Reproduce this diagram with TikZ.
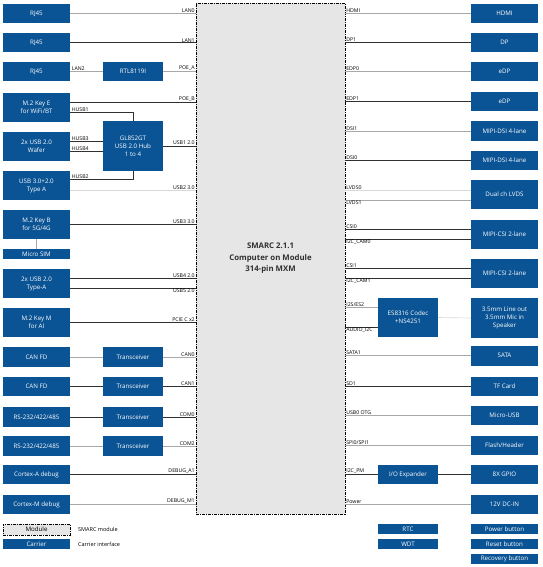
\documentclass[tikz,border=0pt]{standalone}
\usepackage{fontspec}
\setmainfont{Open Sans}
\definecolor{cblue}{HTML}{0A5394}
\definecolor{lgray}{HTML}{A8A8A8}
\definecolor{fgray}{HTML}{D8D8D8}
\definecolor{dgray}{HTML}{303030}
\definecolor{mfill}{HTML}{E6E6E6}
\tikzset{
  cbox/.style={fill=cblue, text=white, font=\fontsize{6.2}{8}\selectfont, align=center, inner sep=0pt},
  lw/.style={minimum width=67pt},
  mw/.style={minimum width=60pt},
  hh/.style={minimum height=#1},
  gl/.style={draw=lgray, line width=0.8pt},
  fl/.style={draw=fgray, line width=0.6pt},
  dl/.style={draw=dgray, line width=0.8pt},
  sigl/.style={font=\fontsize{5.2}{6}\selectfont, inner sep=0.6pt, anchor=south east},
  sigr/.style={font=\fontsize{5.2}{6}\selectfont, inner sep=0.6pt, anchor=south west},
  sigbl/.style={font=\fontsize{5.2}{6}\selectfont, inner sep=0.6pt, anchor=north east},
  sigbr/.style={font=\fontsize{5.2}{6}\selectfont, inner sep=0.6pt, anchor=north west},
  modbox/.style={draw=black, line width=0.7pt, dash pattern=on 3pt off 1pt on 1pt off 1pt, fill=mfill, inner sep=0pt},
}
\begin{document}
\begin{tikzpicture}[x=1pt,y=-1pt]
\useasboundingbox (0,0) rectangle (542,567);
% module
\node[modbox, minimum width=149pt, minimum height=511pt, align=center, text=dgray,
  font=\fontsize{7.8}{11.5}\selectfont\bfseries] (mod) at (270.5,258.5)
  {SMARC 2.1.1\\Computer on Module\\314-pin MXM};

% ---------------- left column
\node[cbox,lw,hh=19pt] (rj0) at (36.5,13.5) {RJ45};
\node[cbox,lw,hh=19pt] (rj1) at (36.5,42.5) {RJ45};
\node[cbox,lw,hh=19pt] (rj2) at (36.5,71.5) {RJ45};
\node[cbox,mw,hh=19pt] (rtl) at (133,71.5) {RTL8119I};
\node[cbox,lw,hh=29pt] (m2e) at (36.5,107.5) {M.2 Key E\\for WiFi/BT};
\node[cbox,mw,hh=50pt] (hub) at (133,146) {GL852GT\\USB 2.0 Hub\\1 to 4};
\node[cbox,lw,hh=29pt] (waf) at (36.5,146.5) {2x USB 2.0\\Wafer};
\node[cbox,lw,hh=29pt] (ta) at (36.5,185.5) {USB 3.0+2.0\\Type A};
\node[cbox,lw,hh=29pt] (m2b) at (36.5,224.5) {M.2 Key B\\for 5G/4G};
\node[cbox,lw,hh=10pt] (sim) at (36.5,254) {Micro SIM};
\node[cbox,lw,hh=29pt] (tb) at (36.5,283.5) {2x USB 2.0\\Type-A};
\node[cbox,lw,hh=29pt] (m2m) at (36.5,322.5) {M.2 Key M\\for AI};
\node[cbox,lw,hh=20pt] (can0) at (36.5,357) {CAN FD};
\node[cbox,mw,hh=20pt] (tr0) at (133,357) {Transceiver};
\node[cbox,lw,hh=19pt] (can1) at (36.5,386.5) {CAN FD};
\node[cbox,mw,hh=19pt] (tr1) at (133,386.5) {Transceiver};
\node[cbox,lw,hh=20pt] (rs0) at (36.5,417) {RS-232/422/485};
\node[cbox,mw,hh=20pt] (tr2) at (133,417) {Transceiver};
\node[cbox,lw,hh=20pt] (rs2) at (36.5,446) {RS-232/422/485};
\node[cbox,mw,hh=20pt] (tr3) at (133,446) {Transceiver};
\node[cbox,lw,hh=19pt] (cad) at (36.5,474.5) {Cortex-A debug};
\node[cbox,lw,hh=19pt] (cmd) at (36.5,504.5) {Cortex-M debug};

% legend
\node[modbox, minimum width=67pt, minimum height=11pt, font=\fontsize{6.2}{7}\selectfont] (lgm) at (36.5,529.5) {Module};
\node[cbox,lw,hh=10pt] (lgc) at (36.5,544) {Carrier};
\node[anchor=west, font=\fontsize{5.5}{6}\selectfont, inner sep=0pt] (lgmt) at (78,529.5) {SMARC module};
\node[anchor=west, font=\fontsize{5.5}{6}\selectfont, inner sep=0pt] (lgct) at (78,544) {Carrier interface};

% left connectors
\draw[gl] (rj0.east) -- (rj0.east -| mod.west);
\draw[dl] (rj1.east) -- (rj1.east -| mod.west);
\draw[gl] (rj2.east) -- (rtl.west);
\draw[gl] (rtl.east) -- (rtl.east -| mod.west);
\draw[dl] ([yshift=5.5pt]m2e.east) coordinate (t1) -- (t1 -| mod.west);
\draw[dl] ([yshift=-4.5pt]m2e.east) -| (hub.north);
\draw[dl] ([yshift=5.5pt]waf.east) coordinate (t2) -- (t2 -| hub.west);
\draw[dl] ([yshift=-4.5pt]waf.east) coordinate (t3) -- (t3 -| hub.west);
\draw[dl] ([yshift=6.5pt]ta.east) -| (hub.south);
\draw[fl] ([yshift=-4.5pt]ta.east) coordinate (t4) -- (t4 -| mod.west);
\draw[dl] (hub.east) -- (hub.east -| mod.west);
\draw[dl] (m2b.east) -- (m2b.east -| mod.west);
\draw[gl] (m2b.south) -- (sim.north);
\draw[dl] ([yshift=5.5pt]tb.east) coordinate (t5) -- (t5 -| mod.west);
\draw[dl] ([yshift=-4.5pt]tb.east) coordinate (t6) -- (t6 -| mod.west);
\draw[dl] (m2m.east) -- (m2m.east -| mod.west);
\draw[gl] (can0.east) -- (tr0.west);
\draw[gl] (tr0.east) -- (tr0.east -| mod.west);
\draw[dl] (can1.east) -- (tr1.west);
\draw[dl] (tr1.east) -- (tr1.east -| mod.west);
\draw[dl] (rs0.east) -- (tr2.west);
\draw[dl] (tr2.east) -- (tr2.east -| mod.west);
\draw[gl] (rs2.east) -- (tr3.west);
\draw[gl] (tr3.east) -- (tr3.east -| mod.west);
\draw[dl] (cad.east) -- (cad.east -| mod.west);
\draw[gl] (cmd.east) -- (cmd.east -| mod.west);

% left labels
\node[sigl] at (195.5,13) {LAN0};
\node[sigl] at (195.5,43) {LAN1};
\node[sigr] at (71,71.5) {LAN2};
\node[sigl] at (195.5,71.5) {POE\_A};
\node[sigl] at (195.5,102) {POE\_B};
\node[sigr] at (71,112) {HUSB1};
\node[sigr] at (71,141) {HUSB3};
\node[sigr] at (71,151) {HUSB4};
\node[sigr] at (71,179) {HUSB2};
\node[sigl] at (195.5,145.5) {USB1 2.0};
\node[sigl] at (195.5,190) {USB2 3.0};
\node[sigl] at (195.5,224.5) {USB3 3.0};
\node[sigl] at (195.5,278) {USB4 2.0};
\node[sigbl] at (195.5,288) {USB5 2.0};
\node[sigl] at (195.5,322.5) {PCIE C x2};
\node[sigl] at (195.5,357) {CAN0};
\node[sigl] at (195.5,386.5) {CAN1};
\node[sigl] at (195.5,417) {COM0};
\node[sigl] at (195.5,446) {COM2};
\node[sigl] at (195.5,474.5) {DEBUG\_A1};
\node[sigl] at (195.5,504.5) {DEBUG\_M1};

% ---------------- right column
\node[cbox,lw,hh=19pt] (hdmi) at (504.5,13.5) {HDMI};
\node[cbox,lw,hh=19pt] (dp) at (504.5,42.5) {DP};
\node[cbox,lw,hh=19pt] (edp0) at (504.5,71.5) {eDP};
\node[cbox,lw,hh=19pt] (edp1) at (504.5,101.5) {eDP};
\node[cbox,lw,hh=20pt] (dsi1) at (504.5,131) {MIPI-DSI 4-lane};
\node[cbox,lw,hh=19pt] (dsi0) at (504.5,160.5) {MIPI-DSI 4-lane};
\node[cbox,lw,hh=29pt] (lvds) at (504.5,194.5) {Dual ch LVDS};
\node[cbox,lw,hh=29pt] (csi0) at (504.5,234.5) {MIPI-CSI 2-lane};
\node[cbox,lw,hh=29pt] (csi1) at (504.5,273.5) {MIPI-CSI 2-lane};
\node[cbox,mw,hh=39pt] (codec) at (408,317.5) {ES8316 Codec\\+NS4251};
\node[cbox,lw,hh=40pt] (aud) at (504.5,318) {3.5mm Line out\\3.5mm Mic in\\Speaker};
\node[cbox,lw,hh=20pt] (sata) at (504.5,355.5) {SATA};
\node[cbox,lw,hh=19pt] (tf) at (504.5,386.5) {TF Card};
\node[cbox,lw,hh=19pt] (musb) at (504.5,415.5) {Micro-USB};
\node[cbox,lw,hh=19pt] (flash) at (504.5,445.5) {Flash/Header};
\node[cbox,mw,hh=19pt] (ioe) at (408,474.5) {I/O Expander};
\node[cbox,lw,hh=19pt] (gpio) at (504.5,474.5) {8X GPIO};
\node[cbox,lw,hh=19pt] (dcin) at (504.5,504.5) {12V DC-IN};
\node[cbox,mw,hh=10pt] (rtc) at (408,529) {RTC};
\node[cbox,mw,hh=10pt] (wdt) at (408,544) {WDT};
\node[cbox,lw,hh=10pt] (pwb) at (504.5,529) {Power button};
\node[cbox,lw,hh=10pt] (rsb) at (504.5,544) {Reset button};
\node[cbox,lw,hh=10pt] (rcb) at (504.5,559) {Recovery button};

% right connectors
\draw[gl] (hdmi.west) -- (hdmi.west -| mod.east);
\draw[dl] (dp.west) -- (dp.west -| mod.east);
\draw[gl] (edp0.west) -- (edp0.west -| mod.east);
\draw[dl] (edp1.west) -- (edp1.west -| mod.east);
\draw[gl] (dsi1.west) -- (dsi1.west -| mod.east);
\draw[dl] (dsi0.west) -- (dsi0.west -| mod.east);
\draw[fl] ([yshift=4.5pt]lvds.west) coordinate (r1) -- (r1 -| mod.east);
\draw[gl] ([yshift=-5.5pt]lvds.west) coordinate (r2) -- (r2 -| mod.east);
\draw[dl] ([yshift=5.5pt]csi0.west) coordinate (r3) -- (r3 -| mod.east);
\draw[dl] ([yshift=-4.5pt]csi0.west) coordinate (r4) -- (r4 -| mod.east);
\draw[dl] ([yshift=5.5pt]csi1.west) coordinate (r5) -- (r5 -| mod.east);
\draw[dl] ([yshift=-4.5pt]csi1.west) coordinate (r6) -- (r6 -| mod.east);
\draw[gl] ([yshift=10.5pt]codec.west) coordinate (r7) -- (r7 -| mod.east);
\draw[dl] ([yshift=-9.5pt]codec.west) coordinate (r8) -- (r8 -| mod.east);
\draw[fl] (codec.east) -- (aud.west);
\draw[gl] (sata.west) -- (sata.west -| mod.east);
\draw[dl] (tf.west) -- (tf.west -| mod.east);
\draw[gl] (musb.west) -- (musb.west -| mod.east);
\draw[gl] (flash.west) -- (flash.west -| mod.east);
\draw[dl] (ioe.west) -- (ioe.west -| mod.east);
\draw[dl] (ioe.east) -- (gpio.west);
\draw[gl] (dcin.west) -- (dcin.west -| mod.east);

% right labels
\node[sigr] at (345.5,13.5) {HDMI};
\node[sigr] at (345.5,42.5) {DP1};
\node[sigr] at (345.5,71.5) {EDP0};
\node[sigr] at (345.5,101.5) {EDP1};
\node[sigr] at (345.5,131) {DSI1};
\node[sigr] at (345.5,160.5) {DSI0};
\node[sigr] at (345.5,190) {LVDS0};
\node[sigbr] at (345.5,200) {LVDS1};
\node[sigr] at (345.5,229) {CSI0};
\node[sigbr] at (345.5,239) {I2C\_CAM0};
\node[sigr] at (345.5,268) {CSI1};
\node[sigbr] at (345.5,278) {I2C\_CAM1};
\node[sigr] at (345.5,307) {I2S/ES2};
\node[sigbr] at (345.5,327) {AUDIO\_I2C};
\node[sigr] at (345.5,355.5) {SATA1};
\node[sigr] at (345.5,386.5) {SD1};
\node[sigr] at (345.5,415.5) {USB0 OTG};
\node[sigr] at (345.5,445.5) {SPI0/SPI1};
\node[sigr] at (345.5,474.5) {I2C\_PM};
\node[sigr] at (345.5,504.5) {Power};
\end{tikzpicture}
\end{document}
